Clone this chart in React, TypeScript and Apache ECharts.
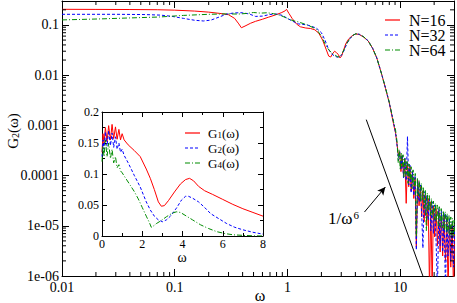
import React, { useEffect, useRef } from 'react';
import * as echarts from 'echarts';

const FONT = "'Liberation Serif', 'Times New Roman', serif";
const RED = '#ff0000';
const BLUE = '#0000ff';
const GREEN = '#008c00';
const DASH_BLUE = [3, 2];
const DASH_GREEN = [5, 2, 1, 2];

// ---- main (log-log) plot ----
const X_MIN = 0.01;
const X_MAX = 30;
const Y_MIN = 1e-6;
const Y_MAX = 0.3;
const X_TICKS = [0.01, 0.1, 1, 10];
const X_TICK_LABELS = ['0.01', '0.1', '1', '10'];
const Y_TICKS = [1e-6, 1e-5, 1e-4, 1e-3, 1e-2, 1e-1];
const Y_TICK_LABELS = ['1e-06', '1e-05', '0.0001', '0.001', '0.01', '0.1'];
const MINOR_MULT = [2, 3, 4, 5, 6, 7, 8, 9];
const X_DECADES = [0.01, 0.1, 1, 10];
const Y_DECADES = [1e-6, 1e-5, 1e-4, 1e-3, 1e-2, 1e-1];

const N16_OMEGA = [0.01, 0.02, 0.04, 0.07, 0.1, 0.15, 0.2, 0.25, 0.3, 0.34, 0.37, 0.39, 0.42, 0.47, 0.52, 0.6, 0.68, 0.78, 0.88, 0.95, 0.98, 1.03, 1.1, 1.2, 1.3, 1.45, 1.6, 1.75, 1.9, 2.05, 2.2, 2.32, 2.42, 2.52, 2.62, 2.72, 2.82, 2.92, 3.02, 3.15, 3.3, 3.5, 3.75, 4.0, 4.3, 4.7, 5.2, 5.7, 6.2, 6.8, 7.4, 8.0, 8.7, 9.1];
const N16_VALUES = [0.205, 0.204, 0.203, 0.201, 0.197, 0.189, 0.180, 0.170, 0.160, 0.135, 0.105, 0.088, 0.095, 0.108, 0.118, 0.130, 0.143, 0.158, 0.175, 0.190, 0.205, 0.17, 0.135, 0.105, 0.092, 0.087, 0.085, 0.08, 0.068, 0.05, 0.033, 0.024, 0.023, 0.027, 0.030, 0.028, 0.026, 0.022, 0.024, 0.032, 0.043, 0.053, 0.061, 0.066, 0.065, 0.058, 0.048, 0.034, 0.022, 0.011, 0.0055, 0.0028, 0.0011, 0.0007];

const N32_OMEGA = [0.01, 0.03, 0.055, 0.075, 0.095, 0.12, 0.15, 0.18, 0.21, 0.25, 0.29, 0.34, 0.4, 0.46, 0.52, 0.6, 0.7, 0.8, 0.9, 1.0, 1.1, 1.25, 1.5, 1.8, 2.0, 2.15, 2.3, 2.45, 2.6, 2.75, 2.9, 3.05, 3.2, 3.35, 3.55, 3.8, 4.05, 4.35, 4.75, 5.2, 5.7, 6.2, 6.8, 7.4, 8.0, 8.7, 9.1];
const N32_VALUES = [0.163, 0.163, 0.161, 0.157, 0.148, 0.135, 0.124, 0.12, 0.125, 0.145, 0.165, 0.174, 0.175, 0.165, 0.148, 0.150, 0.162, 0.165, 0.155, 0.135, 0.12, 0.105, 0.1, 0.087, 0.07, 0.05, 0.034, 0.027, 0.024, 0.023, 0.023, 0.026, 0.032, 0.042, 0.052, 0.062, 0.067, 0.065, 0.058, 0.048, 0.034, 0.022, 0.011, 0.0056, 0.0028, 0.0012, 0.0007];

const N64_OMEGA = [0.01, 0.022, 0.04, 0.073, 0.12, 0.2, 0.28, 0.37, 0.44, 0.5, 0.58, 0.66, 0.75, 0.84, 0.93, 1.03, 1.15, 1.25, 1.5, 1.8, 2.0, 2.2, 2.35, 2.5, 2.65, 2.8, 2.95, 3.1, 3.25, 3.4, 3.6, 3.8, 4.05, 4.35, 4.75, 5.2, 5.7, 6.2, 6.8, 7.4, 8.0, 8.7, 9.1];
const N64_VALUES = [0.126, 0.132, 0.138, 0.144, 0.155, 0.163, 0.166, 0.165, 0.170, 0.177, 0.172, 0.175, 0.168, 0.158, 0.145, 0.13, 0.12, 0.115, 0.1, 0.083, 0.06, 0.038, 0.031, 0.027, 0.025, 0.023, 0.024, 0.029, 0.036, 0.045, 0.054, 0.062, 0.067, 0.065, 0.058, 0.048, 0.034, 0.022, 0.011, 0.0056, 0.0029, 0.0012, 0.0008];

// noisy high-frequency tail
const NOISE_OMEGA = [9.4, 9.65, 9.9, 10.15, 10.4, 10.7, 11.0, 11.3, 11.6, 11.9, 12.2, 12.5, 12.85, 13.2, 13.55, 13.9, 14.3, 14.7, 15.1, 15.5, 15.9, 16.3, 16.75, 17.2, 17.7, 18.2, 18.7, 19.2, 19.7, 20.2, 20.8, 21.4, 22.0, 22.6, 23.2, 23.8, 24.5, 25.2, 25.9, 26.6, 27.3, 28.1, 28.9, 29.7, 30.5];
const N16_NOISE = [4.0e-4, 2.5e-4, 2.9e-4, 1.2e-4, 2.5e-4, 1.0e-4, 2.1e-4, 2.8e-5, 1.8e-4, 6e-5, 1.5e-4, 5e-5, 1.2e-4, 3.5e-5, 9e-5, 3.8e-6, 8e-5, 2.5e-5, 6e-5, 1.5e-5, 5e-5, 1.2e-5, 4e-5, 1e-5, 3.5e-5, 5e-7, 3e-5, 5e-7, 2.5e-5, 6e-6, 2.2e-5, 4e-6, 2e-5, 3e-6, 1.8e-5, 2.5e-6, 1.6e-5, 2e-6, 1.4e-5, 5e-7, 1.2e-5, 1.5e-6, 1.1e-5, 5e-7, 1e-5];
const N32_NOISE = [3.8e-4, 2.0e-4, 3.0e-4, 1.3e-4, 2.6e-4, 9e-5, 2.2e-4, 8e-5, 6e-4, 6.5e-5, 1.6e-4, 4.5e-5, 1.2e-4, 4e-5, 1.0e-4, 3.3e-6, 8e-5, 3e-5, 6.5e-5, 1.8e-5, 3.6e-6, 4.8e-5, 1.6e-5, 4e-5, 1.3e-5, 3.4e-5, 8e-6, 3e-5, 7e-6, 2.6e-5, 5e-6, 5e-7, 2.2e-5, 4e-6, 2e-5, 3e-6, 1.8e-5, 5e-7, 1.6e-5, 2.5e-6, 1.4e-5, 2e-6, 1.2e-5, 1.5e-6, 1.1e-5];
const N64_NOISE_OMEGA = [9.4, 9.6, 9.8, 10.0, 10.2, 10.4, 10.6, 10.8, 11.0, 11.25, 11.5, 11.75, 12.0, 12.25, 12.5, 12.75, 13.0, 13.3, 13.6, 13.9, 14.2, 14.5, 14.8, 15.1, 15.4, 15.7, 16.0, 16.35, 16.7, 17.05, 17.4, 17.75, 18.1, 18.5, 18.9, 19.3, 19.7, 20.1, 20.5, 20.9, 21.3, 21.75, 22.2, 22.65, 23.1, 23.6, 24.1, 24.6, 25.1, 25.6, 26.1, 26.6, 27.1, 27.6, 28.1, 28.6, 29.1, 29.6, 30.1, 30.6];
const N64_NOISE = [4.5e-4, 1.8e-4, 3.3e-4, 1.3e-4, 2.9e-4, 1.5e-4, 2.6e-4, 9e-5, 2.3e-4, 1.0e-4, 2.0e-4, 7e-5, 1.7e-4, 8e-5, 1.5e-4, 5.5e-5, 1.3e-4, 6e-5, 1.1e-4, 6e-6, 9e-5, 4e-5, 8e-5, 3e-5, 7e-5, 3.2e-5, 6e-5, 2.2e-5, 5.2e-5, 8e-6, 4.5e-5, 2.0e-5, 4e-5, 1.6e-5, 3.5e-5, 1.5e-5, 3.1e-5, 1.3e-5, 2.8e-5, 1.2e-5, 2.6e-5, 1.0e-5, 2.4e-5, 9.5e-6, 2.2e-5, 9e-6, 2.0e-5, 8e-6, 1.9e-5, 7.5e-6, 1.75e-5, 7e-6, 1.6e-5, 6.5e-6, 1.5e-5, 6.5e-6, 1.4e-5, 6e-6, 1.3e-5, 6e-6];

// 1/omega^6 guide line and arrow (data coordinates)
const POWER_OMEGA = [5.0, 15.9];
const POWER_VALUES = [1.3e-3, 1e-6];
const ARROW_FROM = [4.82, 1.88e-5];
const ARROW_TO = [7.38, 5.9e-5];

// ---- inset (linear) plot ----
const G1_OMEGA = [0, 0.05, 0.1, 0.17, 0.25, 0.33, 0.42, 0.5, 0.58, 0.67, 0.75, 0.84, 0.92, 1.0, 1.1, 1.3, 1.6, 1.9, 2.2, 2.4, 2.6, 2.8, 2.95, 3.1, 3.3, 3.6, 3.9, 4.15, 4.35, 4.55, 4.8, 5.1, 5.5, 6.0, 6.5, 7.0, 7.5, 8.0];
const G1_VALUES = [0.135, 0.165, 0.150, 0.175, 0.152, 0.178, 0.155, 0.180, 0.157, 0.176, 0.156, 0.172, 0.155, 0.165, 0.155, 0.147, 0.138, 0.128, 0.108, 0.093, 0.075, 0.055, 0.048, 0.049, 0.057, 0.071, 0.084, 0.091, 0.093, 0.089, 0.080, 0.073, 0.067, 0.059, 0.051, 0.044, 0.038, 0.032];
const G2_OMEGA = [0, 0.05, 0.1, 0.17, 0.25, 0.33, 0.42, 0.5, 0.58, 0.67, 0.75, 0.84, 0.92, 1.0, 1.1, 1.3, 1.6, 1.9, 2.2, 2.4, 2.6, 2.8, 3.0, 3.2, 3.4, 3.7, 3.95, 4.15, 4.3, 4.5, 4.8, 5.1, 5.4, 5.8, 6.2, 6.6, 7.0, 7.5, 8.0];
const G2_VALUES = [0.128, 0.155, 0.140, 0.168, 0.145, 0.170, 0.146, 0.166, 0.143, 0.160, 0.140, 0.150, 0.135, 0.140, 0.130, 0.118, 0.098, 0.079, 0.055, 0.042, 0.032, 0.026, 0.023, 0.026, 0.032, 0.045, 0.058, 0.064, 0.064, 0.061, 0.055, 0.046, 0.036, 0.028, 0.020, 0.014, 0.010, 0.006, 0.003];
const G4_OMEGA = [0, 0.05, 0.1, 0.17, 0.25, 0.33, 0.42, 0.5, 0.58, 0.67, 0.75, 0.84, 0.92, 1.0, 1.2, 1.4, 1.6, 1.8, 2.0, 2.2, 2.35, 2.45, 2.55, 2.7, 2.9, 3.2, 3.5, 3.7, 3.9, 4.2, 4.5, 4.9, 5.3, 5.7, 6.1, 6.5, 7.0, 7.5, 8.0];
const G4_VALUES = [0.120, 0.145, 0.128, 0.155, 0.128, 0.150, 0.125, 0.140, 0.118, 0.128, 0.110, 0.115, 0.105, 0.102, 0.092, 0.082, 0.072, 0.060, 0.046, 0.032, 0.022, 0.014, 0.016, 0.020, 0.024, 0.031, 0.037, 0.039, 0.038, 0.032, 0.026, 0.018, 0.012, 0.007, 0.004, 0.002, 0.001, 0.0003, 0.0];

const MAIN_NAMES = ['N=16', 'N=32', 'N=64'];
const INSET_SUBSCRIPTS = ['1', '2', '4'];
const INSET_NAMES = INSET_SUBSCRIPTS.map((s) => `G${s}(ω)`);
const COLORS = [RED, BLUE, GREEN];
const DASHES: any[] = [null, DASH_BLUE, DASH_GREEN];

const zip = (w: number[], v: number[]) => w.map((x, i) => [x, v[i]]);
const X_MINOR: number[] = [];
X_DECADES.forEach((d) => MINOR_MULT.forEach((m) => { const v = d * m; if (v < X_MAX * 0.999) X_MINOR.push(v); }));
const Y_MINOR: number[] = [];
Y_DECADES.forEach((d) => MINOR_MULT.forEach((m) => { const v = d * m; if (v < Y_MAX * 0.999) Y_MINOR.push(v); }));

const labelFor = (ticks: number[], labels: string[]) => (v: number) => {
  const i = ticks.findIndex((t) => Math.abs(Math.log10(t) - Math.log10(v)) < 1e-6);
  return i >= 0 ? labels[i] : '';
};

const axisLine = { show: true, onZero: false, lineStyle: { color: '#000', width: 1 } };

function legendGraphics(prefix: string, x: number, ys: number[], labels: string[], fontSize: number, rich: boolean, textGap: number) {
  const out: any[] = [];
  ys.forEach((y, i) => {
    const style: any = { stroke: COLORS[i], lineWidth: 1.2, fill: 'none' };
    if (DASHES[i]) style.lineDash = DASHES[i];
    out.push({ id: `${prefix}-line-${i}`, type: 'polyline', shape: { points: [[x, y], [x + 15, y]] }, style, z: 100, silent: true });
    if (rich) {
      out.push({
        id: `${prefix}-text-${i}`, type: 'text', x: x + 15 + textGap, y, z: 100, silent: true,
        style: {
          text: `{a|G}{s|${INSET_SUBSCRIPTS[i]}}{a|(ω)}`, align: 'left', verticalAlign: 'middle',
          rich: {
            a: { fontFamily: FONT, fontSize, lineHeight: fontSize, fill: '#000', verticalAlign: 'top' },
            s: { fontFamily: FONT, fontSize: 9, lineHeight: 9, fill: '#000', padding: [5, 0, 0, 0], verticalAlign: 'bottom' },
          },
        },
      });
    } else {
      out.push({
        id: `${prefix}-text-${i}`, type: 'text', x: x + 15 + textGap, y, z: 100, silent: true,
        style: { text: labels[i], fontFamily: FONT, fontSize, lineHeight: 14, fill: '#000', align: 'left', verticalAlign: 'middle' },
      });
    }
  });
  return out;
}

function buildOption(): any {
  const mainLogX = (pos: 'bottom' | 'top', showLabel: boolean) => ({
    type: 'log', logBase: 10, gridIndex: 0, position: pos, min: X_MIN, max: X_MAX,
    axisLine, splitLine: { show: false },
    axisTick: { show: true, inside: true, length: 7, lineStyle: { color: '#000', width: 1 } },
    axisLabel: { show: showLabel, fontFamily: FONT, fontSize: 14, color: '#000', margin: 4, formatter: labelFor(X_TICKS, X_TICK_LABELS) },
  });
  const mainLogY = (pos: 'left' | 'right', showLabel: boolean) => ({
    type: 'log', logBase: 10, gridIndex: 0, position: pos, min: Y_MIN, max: Y_MAX,
    axisLine, splitLine: { show: false },
    axisTick: { show: true, inside: true, length: 7, lineStyle: { color: '#000', width: 1 } },
    axisLabel: { show: showLabel, fontFamily: FONT, fontSize: 14, color: '#000', margin: 3, formatter: labelFor(Y_TICKS, Y_TICK_LABELS) },
  });
  const insetX = (pos: 'bottom' | 'top', showLabel: boolean) => ({
    type: 'value', gridIndex: 1, position: pos, min: 0, max: 8, interval: 2,
    axisLine, splitLine: { show: false },
    axisTick: { show: true, inside: true, length: 5, lineStyle: { color: '#000' } },
    minorTick: { show: true, splitNumber: 2, length: 3, lineStyle: { color: '#000' } },
    axisLabel: { show: showLabel, fontFamily: FONT, fontSize: 12, lineHeight: 11, color: '#000', margin: 2 },
  });
  const insetY = (pos: 'left' | 'right', showLabel: boolean) => ({
    type: 'value', gridIndex: 1, position: pos, min: 0, max: 0.2, interval: 0.05,
    axisLine, splitLine: { show: false },
    axisTick: { show: true, inside: true, length: 5, lineStyle: { color: '#000' } },
    minorTick: { show: true, splitNumber: 2, length: 3, lineStyle: { color: '#000' } },
    axisLabel: { show: showLabel, fontFamily: FONT, fontSize: 12, color: '#000', margin: 3 },
  });

  const line = (name: string, data: number[][], color: string, type: any, xi: number, yi: number, z = 2) => ({
    name, type: 'line', xAxisIndex: xi, yAxisIndex: yi, data, symbol: 'none', showSymbol: false,
    lineStyle: { color, width: 1, type }, itemStyle: { color }, z, silent: true,
  });

  const minorLine = (x1: number, y1: number, x2: number, y2: number) => ({
    type: 'line', shape: { x1, y1, x2, y2 }, style: { stroke: '#000', lineWidth: 1 },
  });

  return {
    animation: false,
    backgroundColor: '#fff',
    textStyle: { fontFamily: FONT },
    grid: [
      { left: 62, top: 1, width: 394, height: 275 },
      { left: 102, top: 112, width: 161, height: 124 },
    ],
    xAxis: [mainLogX('bottom', true), mainLogX('top', false), insetX('bottom', true), insetX('top', false)],
    yAxis: [mainLogY('left', true), mainLogY('right', false), insetY('left', true), insetY('right', false)],
    series: [
      line(MAIN_NAMES[0], zip(N16_OMEGA, N16_VALUES).concat(zip(NOISE_OMEGA, N16_NOISE)), RED, 'solid', 0, 0, 2),
      line(MAIN_NAMES[1], zip(N32_OMEGA, N32_VALUES).concat(zip(NOISE_OMEGA, N32_NOISE)), BLUE, DASH_BLUE, 0, 0, 3),
      line(MAIN_NAMES[2], zip(N64_OMEGA, N64_VALUES).concat(zip(N64_NOISE_OMEGA, N64_NOISE)), GREEN, DASH_GREEN, 0, 0, 4),
      {
        ...line('1/ω^6', zip(POWER_OMEGA, POWER_VALUES), '#000', 'solid', 0, 0, 5),
        markLine: {
          silent: true, symbol: ['none', 'arrow'], symbolSize: [6, 8],
          lineStyle: { color: '#000', width: 1, type: 'solid' }, label: { show: false },
          emphasis: { disabled: true },
          data: [[{ coord: ARROW_FROM }, { coord: ARROW_TO }]],
        },
      },
      line(INSET_NAMES[0], zip(G1_OMEGA, G1_VALUES), RED, 'solid', 2, 2, 6),
      line(INSET_NAMES[1], zip(G2_OMEGA, G2_VALUES), BLUE, DASH_BLUE, 2, 2, 7),
      line(INSET_NAMES[2], zip(G4_OMEGA, G4_VALUES), GREEN, DASH_GREEN, 2, 2, 8),
      {
        type: 'custom', xAxisIndex: 0, yAxisIndex: 0, silent: true, clip: false, z: 10,
        data: X_MINOR.map((v) => [v, Y_MIN]),
        renderItem: (_p: any, api: any) => {
          const v = api.value(0);
          const b = api.coord([v, Y_MIN]);
          const t = api.coord([v, Y_MAX]);
          return { type: 'group', children: [minorLine(b[0], b[1], b[0], b[1] - 4), minorLine(t[0], t[1], t[0], t[1] + 4)] };
        },
      },
      {
        type: 'custom', xAxisIndex: 0, yAxisIndex: 0, silent: true, clip: false, z: 10,
        data: Y_MINOR.map((v) => [X_MIN, v]),
        renderItem: (_p: any, api: any) => {
          const v = api.value(1);
          const l = api.coord([X_MIN, v]);
          const r = api.coord([X_MAX, v]);
          return { type: 'group', children: [minorLine(l[0], l[1], l[0] + 4, l[1]), minorLine(r[0], r[1], r[0] - 4, r[1])] };
        },
      },
    ],
    graphic: [
      ...legendGraphics('main', 385, [20, 35, 50], MAIN_NAMES, 16, false, 9),
      ...legendGraphics('inset', 185, [133, 148, 163], INSET_NAMES, 13, true, 8),
      {
        id: 'yname', type: 'text', x: 13, y: 131, rotation: Math.PI / 2,
        style: {
          text: '{a|G}{s|2}{a|(ω)}', align: 'center', verticalAlign: 'middle',
          rich: {
            a: { fontFamily: FONT, fontSize: 15, lineHeight: 15, fill: '#000', verticalAlign: 'top' },
            s: { fontFamily: FONT, fontSize: 10, lineHeight: 10, fill: '#000', padding: [7, 0, 0, 0], verticalAlign: 'bottom' },
          },
        },
      },
      { id: 'xname', type: 'text', x: 260, y: 295, style: { text: 'ω', fontFamily: FONT, fontSize: 16, fill: '#000', align: 'center', verticalAlign: 'middle' } },
      { id: 'insetxname', type: 'text', x: 182, y: 257.5, style: { text: 'ω', fontFamily: FONT, fontSize: 14, lineHeight: 11, fill: '#000', align: 'center', verticalAlign: 'middle' } },
      {
        id: 'powerlabel', type: 'text', x: 328, y: 218,
        style: {
          text: '{a|1/ω}{s|6}', align: 'left', verticalAlign: 'middle',
          rich: {
            a: { fontFamily: FONT, fontSize: 17, lineHeight: 17, fill: '#000', verticalAlign: 'top' },
            s: { fontFamily: FONT, fontSize: 11, lineHeight: 11, fill: '#000', verticalAlign: 'top', padding: [0, 0, 0, 1] },
          },
        },
      },
    ],
  };
}

export default function App() {
  const ref = useRef<HTMLDivElement>(null);
  useEffect(() => {
    if (!ref.current) return;
    const chart = echarts.init(ref.current, undefined, { renderer: 'svg' });
    chart.setOption(buildOption());
    return () => chart.dispose();
  }, []);
  return <div ref={ref} style={{ position: 'fixed', left: 0, top: 0, width: 457, height: 303, background: '#fff' }} />;
}
